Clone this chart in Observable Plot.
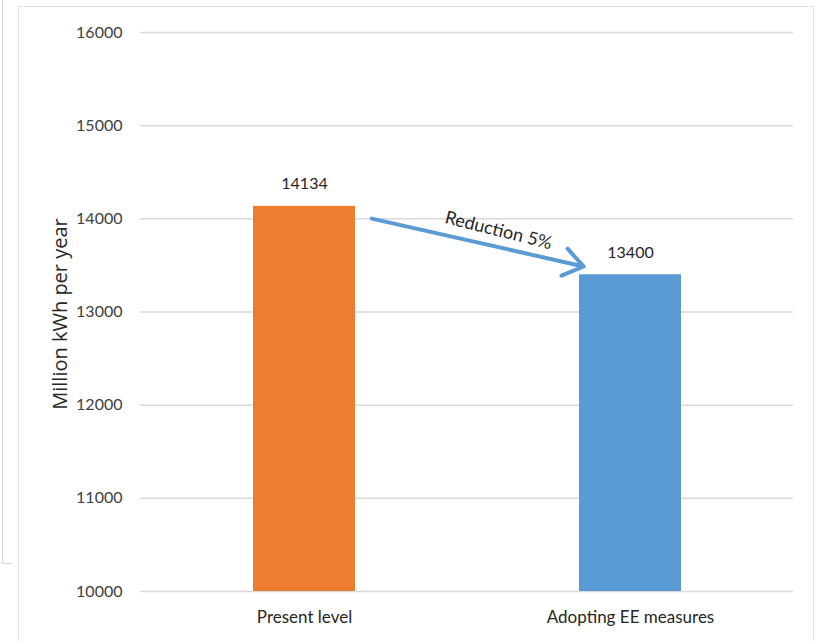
<!DOCTYPE html>
<html><head><meta charset="utf-8">
<script src="https://cdn.jsdelivr.net/npm/d3@7"></script>
<script src="https://cdn.jsdelivr.net/npm/@observablehq/plot@0.6"></script>
<style>
body{margin:0;background:#fff;}
#wrap{position:relative;width:815px;height:641px;overflow:hidden;}
#outer{position:absolute;left:2px;top:-2px;width:10px;height:565px;border-left:1.5px solid #d6d6d6;border-bottom:1.5px solid #d6d6d6;}
#frame{position:absolute;left:18px;top:6px;width:794px;height:700px;border:1.5px solid #e0e0e0;}
#chart{position:absolute;left:0;top:0;}
</style></head>
<body><div id="wrap"><div id="outer"></div><div id="frame"></div><div id="chart"></div></div>
<script>
const categories = ["Present level", "Adopting EE measures"];
const values = [14134, 13400];
const colors = ["#ED7D31", "#5B9BD5"];
const yTicks = [10000, 11000, 12000, 13000, 14000, 15000, 16000];
const yLabel = "Million kWh per year";
const arrowNote = "Reduction 5%";

const data = categories.map((c, i) => ({category: c, value: values[i], color: colors[i]}));

const chart = Plot.plot({
  width: 815, height: 641,
  marginTop: 32, marginBottom: 50, marginLeft: 140, marginRight: 22,
  style: {fontFamily: "Lato, sans-serif", background: "transparent", color: "#404040"},
  x: {domain: categories, padding: 0, label: null},
  y: {domain: [10000, 16000], label: null},
  marks: [
    Plot.gridY(yTicks, {stroke: "#d9d9d9", strokeOpacity: 1, strokeWidth: 1.5}),
    Plot.axisY(yTicks, {tickSize: 0, tickPadding: 18, fontSize: 16, label: null, fill: "#404040", tickFormat: "d"}),
    Plot.axisX({tickSize: 0, tickPadding: 19, fontSize: 17, label: null, fill: "#262626"}),
    Plot.barY(data, {x: "category", y1: 10000, y2: "value", fill: "color", insetLeft: 112, insetRight: 112}),
    Plot.text(data, {x: "category", y: "value", text: d => String(d.value), dy: -22, fontSize: 16, fill: "#262626"}),
    Plot.arrow([{a: categories[0], b: categories[1], v1: 14166, v2: 13375}], {
      x1: "a", x2: "b", y1: "v1", y2: "v2", stroke: "#5B9BD5", strokeWidth: 4,
      headLength: 9, headAngle: 70, insetStart: 69, insetEnd: 48, bend: 0
    }),
    Plot.text([arrowNote], {x: () => categories[0], y: () => 13896, text: d => d, dx: 194, dy: 2, rotate: 14, fontSize: 18, fill: "#262626"}),
    Plot.text([yLabel], {frameAnchor: "left", textAnchor: "middle", dx: -80, dy: 2, rotate: -90, text: d => d, fontSize: 20, fontFamily: "Open Sans", fill: "#262626"})
  ]
});
document.getElementById("chart").appendChild(chart);
</script></body></html>
